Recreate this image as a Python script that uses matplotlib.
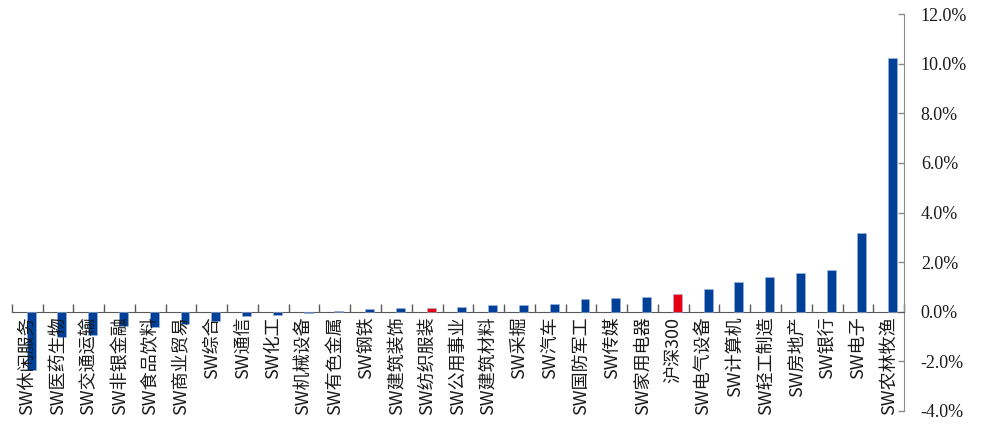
"""
SW industry returns vs CSI 300, one bar per industry, sorted ascending.
"""
import matplotlib

matplotlib.use("Agg")
import matplotlib.pyplot as plt
from matplotlib.ticker import FuncFormatter, MultipleLocator
import numpy as np

# ---------------------------------------------------------------------------
# Data (values in %)
# ---------------------------------------------------------------------------

categories = [
    "SW休闲服务", "SW医药生物", "SW交通运输", "SW非银金融", "SW食品饮料",
    "SW商业贸易", "SW综合", "SW通信", "SW化工", "SW机械设备",
    "SW有色金属", "SW钢铁", "SW建筑装饰", "SW纺织服装", "SW公用事业",
    "SW建筑材料", "SW采掘", "SW汽车", "SW国防军工", "SW传媒",
    "SW家用电器", "沪深300", "SW电气设备", "SW计算机", "SW轻工制造",
    "SW房地产", "SW银行", "SW电子", "SW农林牧渔",
]
returns = [
    -2.35, -1.00, -0.93, -0.57, -0.60,
    -0.50, -0.37, -0.17, -0.13, -0.07,
    0.03, 0.11, 0.15, 0.16, 0.18,
    0.26, 0.27, 0.32, 0.50, 0.55,
    0.60, 0.70, 0.90, 1.19, 1.41,
    1.58, 1.70, 3.18, 10.22,
]
highlight = ["沪深300", "SW纺织服装"]

_BLUE = "#004098"
_RED = "#E60012"
_GRID_GRAY = "#8c8c8c"

plt.rcParams["font.family"] = ["Noto Sans CJK SC", "DejaVu Sans"]

fig = plt.figure(figsize=(9.87, 4.25), dpi=100)
ax = fig.add_axes([0.0119, 0.033, 0.916 - 0.0119, 0.967 - 0.033])

x = np.arange(len(categories))
colors = [_RED if c in highlight else _BLUE for c in categories]
ax.bar(x + 0.13, returns, width=0.29, color=colors, edgecolor="#9fb6dc",
       linewidth=0.4, zorder=3)

ax.set_xlim(-0.5, len(categories) - 0.5)
ax.set_ylim(-4, 12)

# right-hand y axis
ax.yaxis.tick_right()
ax.yaxis.set_major_locator(MultipleLocator(2))
ax.yaxis.set_major_formatter(FuncFormatter(lambda v, _: f"{v:.1f}%"))
ax.tick_params(axis="y", direction="in", length=4, width=1, color=_GRID_GRAY,
               pad=12, labelsize=13, labelfontfamily="Liberation Serif",
               labelcolor="#1a1a1a")

# x axis line through zero, ticks at category boundaries pointing up
ax.spines["bottom"].set_position(("data", 0))
ax.spines["bottom"].set_color("#595959")
ax.spines["right"].set_color(_GRID_GRAY)
ax.spines["top"].set_visible(False)
ax.spines["left"].set_visible(False)
ax.set_xticks(np.arange(len(categories) + 1) - 0.5)
ax.set_xticklabels([])
ax.tick_params(axis="x", direction="in", length=6, width=1, color="#595959")

# vertical category labels hanging below the zero line
for xi, name in zip(x, categories):
    ax.text(xi, -0.2, name, rotation=90, ha="center", va="top",
            fontsize=13, color="#1a1a1a", zorder=4)

fig.savefig("out.png", dpi=100)
